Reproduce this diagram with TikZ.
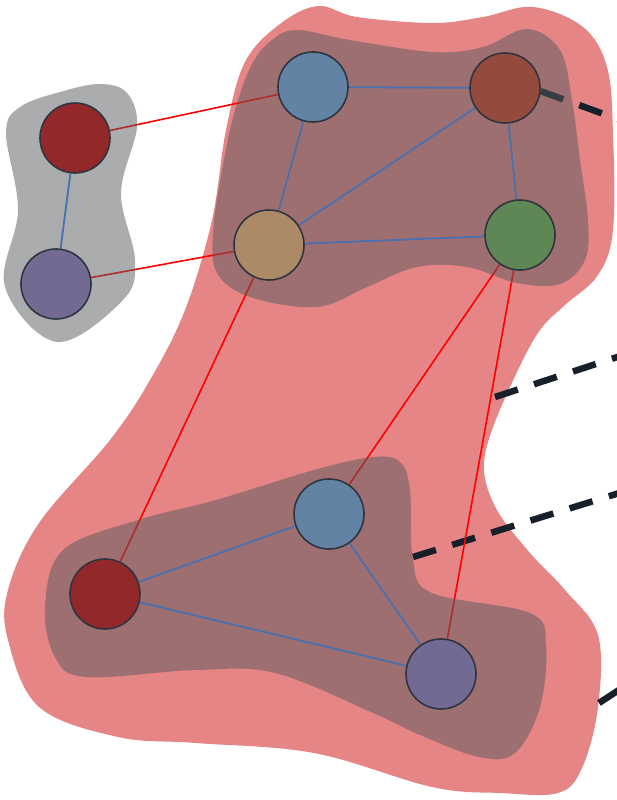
\documentclass[tikz,border=0pt]{standalone}
\begin{document}
\begin{tikzpicture}[x=1pt,y=-1pt,
  nd/.style={circle,minimum size=70pt,inner sep=0pt,draw=ndborder,line width=1.6pt},
  redge/.style={draw=red,line width=1.6pt},
  bedge/.style={draw=bluee,line width=1.8pt},
  dashe/.style={draw=dashc,line width=6.5pt,dash pattern=on 24pt off 17pt},
  subblob/.style={fill=slate,fill opacity=0.5},
]
\definecolor{ndborder}{HTML}{2E3440}
\definecolor{bluee}{HTML}{4A70B0}
\definecolor{dashc}{HTML}{17202A}
\definecolor{pinkb}{HTML}{E68585}
\definecolor{slate}{HTML}{585A5C}
\definecolor{cblue}{HTML}{6283A3}
\definecolor{cbrown}{HTML}{954A3E}
\definecolor{ctan}{HTML}{AD8A66}
\definecolor{cgreen}{HTML}{5F8756}
\definecolor{cred}{HTML}{93282B}
\definecolor{cpurple}{HTML}{736A93}
\useasboundingbox (0,0) rectangle (616,800);

% big pink blob
\fill[pinkb] plot[smooth cycle,tension=0.6] coordinates {
 (318,6) (357,17) (433,23) (483,17) (533,7) (583,27) (607,67) (613,133)
 (613,230) (598,275) (565,305) (540,330) (518,370) (492,430) (484,470)
 (497,510) (530,553) (565,590) (598,635) (598,707) (582,768) (558,793)
 (500,793) (432,787) (314,753) (196,743) (118,737) (39,707) (8,640)
 (8,590) (39,523) (110,440) (150,380) (185,310) (212,220) (226,130)
 (245,62) (280,24)};

% node positions
\coordinate (pG1) at (75,138);
\coordinate (pG2) at (56,284);
\coordinate (pA) at (313,87);
\coordinate (pB) at (505,88);
\coordinate (pC) at (269,245);
\coordinate (pD) at (520,235);
\coordinate (pE) at (329,514);
\coordinate (pF) at (105,594);
\coordinate (pH) at (441,674);
\path (pG1) node[nd,draw=none] (G1) {} (pG2) node[nd,draw=none] (G2) {}
 (pA) node[nd,draw=none] (A) {} (pB) node[nd,draw=none] (B) {}
 (pC) node[nd,draw=none] (C) {} (pD) node[nd,draw=none] (D) {}
 (pE) node[nd,draw=none] (E) {} (pF) node[nd,draw=none] (F) {}
 (pH) node[nd,draw=none] (H) {};

% outgoing dashed connectors
\coordinate (o1) at (700,149);
\coordinate (s2) at (495,397);
\coordinate (o2) at (700,330);
\coordinate (s3) at (413,557);
\coordinate (o3) at (700,468);
\coordinate (s4) at (599,703);
\coordinate (o4) at (700,637);
\draw[dashe] (B.-5) -- (o1);
\draw[dashe] (s2) -- (o2);
\draw[dashe] (s3) -- (o3);
\draw[dashe] (s4) -- (o4);

% inter-cluster red edges
\draw[redge] (G1) -- (A);
\draw[redge] (G2) -- (C);
\draw[redge] (C) -- (F);
\draw[redge] (D) -- (E);
\draw[redge] (D) -- (H);

% cluster blobs
\fill[subblob] plot[smooth cycle,tension=0.6] coordinates {
 (100,84) (127,93) (137,127) (121,193) (135,260) (123,300) (57,342)
 (5,287) (18,210) (6,133) (20,107) (60,92)};
\fill[subblob] plot[smooth cycle,tension=0.6] coordinates {
 (297,30) (350,40) (433,52) (483,47) (527,29) (560,50) (572,100)
 (580,160) (588,220) (585,260) (560,284) (517,283) (467,267) (417,267)
 (367,287) (317,307) (250,297) (217,273) (213,233) (222,170) (235,110)
 (252,64) (272,40)};
\fill[subblob] plot[smooth cycle,tension=0.6] coordinates {
 (373,457) (400,462) (410,490) (413,560) (432,593) (530,613) (546,645)
 (540,707) (515,753) (479,757) (420,735) (373,713) (275,673) (196,670)
 (86,677) (55,657) (45,607) (63,550) (138,520) (216,500) (314,470)};

% intra-cluster blue edges
\draw[bedge] (G1) -- (G2);
\draw[bedge] (A) -- (B);
\draw[bedge] (A) -- (C);
\draw[bedge] (B) -- (C);
\draw[bedge] (B) -- (D);
\draw[bedge] (C) -- (D);
\draw[bedge] (E) -- (F);
\draw[bedge] (E) -- (H);
\draw[bedge] (F) -- (H);

% visible nodes
\node[nd,fill=cred] at (G1) {};
\node[nd,fill=cpurple] at (G2) {};
\node[nd,fill=cblue] at (A) {};
\node[nd,fill=cbrown] at (B) {};
\node[nd,fill=ctan] at (C) {};
\node[nd,fill=cgreen] at (D) {};
\node[nd,fill=cblue] at (E) {};
\node[nd,fill=cred] at (F) {};
\node[nd,fill=cpurple] at (H) {};
\end{tikzpicture}
\end{document}
